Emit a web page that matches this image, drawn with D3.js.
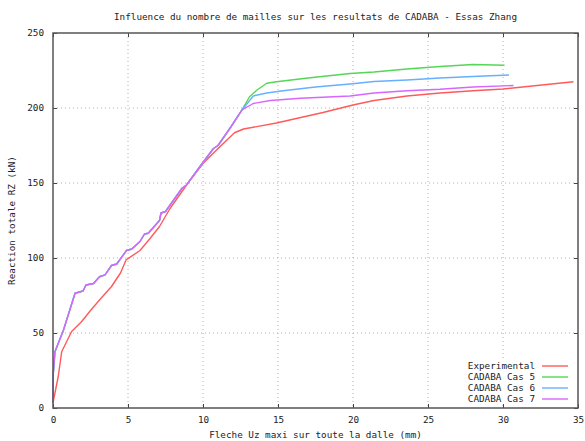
<!DOCTYPE html>
<html lang="fr">
	<head>
		<meta charset="UTF-8">
		<title>Influence du nombre de mailles</title>
		<script src="https://d3js.org/d3.v7.min.js"></script>
		<style>
			body {
				margin: 0;
				background: white;
			}

			text {
				font-family: "DejaVu Sans Mono", monospace;
				font-size: 9.3px;
				fill: #222;
			}

			.grid line {
				stroke: #b0b0b0;
				stroke-width: 1;
				stroke-dasharray: 1 3;
			}
		</style>
	</head>
	<body>
		<svg id="chart" width="585" height="441"></svg>
		<script>
			// lectures faites sur l'image (x = fleche en mm, y = reaction en kN)
			const experimental = [
				[0, 3.5], [0.35, 21], [0.58, 37.5], [1.24, 51], [1.9, 57.5], [2.5, 65], [3.1, 72],
				[3.9, 81], [4.5, 90], [4.87, 98.7], [5.8, 105], [6.47, 113], [7.1, 121], [7.8, 133],
				[9.0, 150], [10.0, 163], [10.9, 172], [12.1, 183.5], [12.7, 186], [14.9, 190],
				[16.0, 192.5], [18.0, 197], [20.0, 202], [21.4, 205], [23.6, 208], [25.8, 210],
				[28.0, 211.5], [30.0, 212.7], [34.7, 217.5]
			]
			// partie commune aux trois calculs CADABA
			const cadabaCommon = [
				[0, 3.5], [0.02, 23], [0.13, 37.5], [0.7, 52], [1.47, 76.5], [2.0, 78], [2.2, 82],
				[2.7, 83], [3.1, 87.5], [3.47, 88.7], [3.9, 95], [4.25, 96], [4.9, 105], [5.25, 106],
				[5.8, 111], [6.1, 116], [6.35, 116.5], [7.1, 125], [7.2, 130], [7.5, 131],
				[8.6, 146.5], [8.9, 148.7], [9.8, 161], [10.7, 173], [11.0, 175], [11.8, 186.5],
				[12.6, 198.7]
			]
			const cas5Tail = [
				[13.1, 207.5], [13.6, 212], [14.25, 216.5], [14.9, 217.5], [17.0, 220], [19.8, 223],
				[21.4, 224], [23.6, 226], [25.8, 227.7], [28.0, 229], [30.1, 228.5]
			]
			const cas6Tail = [
				[13.35, 208], [14.25, 210], [15.35, 211.5], [17.5, 214], [19.8, 216], [21.4, 217.7],
				[23.6, 218.7], [25.8, 220], [28.0, 221], [30.4, 222]
			]
			const cas7Tail = [
				[13.35, 203], [14.5, 205], [16.5, 206.5], [19.8, 208], [21.4, 210], [23.6, 211.5],
				[25.8, 212.5], [28.0, 214], [30.7, 215]
			]

			const seriesNames = ["Experimental", "CADABA Cas 5", "CADABA Cas 6", "CADABA Cas 7"]
			const seriesColors = ["#ff5a5a", "#55d655", "#66b0ff", "#d865ff"]
			const xTicks = [0, 5, 10, 15, 20, 25, 30, 35]
			const yTicks = [0, 50, 100, 150, 200, 250]

			const series = [
				experimental,
				cadabaCommon.concat(cas5Tail),
				cadabaCommon.concat(cas6Tail),
				cadabaCommon.concat(cas7Tail)
			]

			const svg = d3.select("#chart")
			const plotLeft = 53, plotRight = 578, plotTop = 33, plotBottom = 408

			const x = d3.scaleLinear().domain([0, 35]).range([plotLeft, plotRight])
			const y = d3.scaleLinear().domain([0, 250]).range([plotBottom, plotTop])

			// grille pointillee
			const grid = svg.append("g").classed("grid", true)
			grid.selectAll(".gx")
				.data(xTicks.filter(d => d > 0 && d < 35))
				.join("line")
				.attr("x1", d => x(d)).attr("x2", d => x(d))
				.attr("y1", plotTop).attr("y2", plotBottom)
			grid.selectAll(".gy")
				.data(yTicks.filter(d => d > 0 && d < 250))
				.join("line")
				.attr("x1", plotLeft).attr("x2", plotRight)
				.attr("y1", d => y(d)).attr("y2", d => y(d))

			// courbes
			const line = d3.line().x(d => x(d[0])).y(d => y(d[1]))
			svg.append("g")
				.selectAll("path")
				.data(series)
				.join("path")
				.attr("d", line)
				.attr("fill", "none")
				.attr("stroke", (d, i) => seriesColors[i])
				.attr("stroke-width", 1.4)
				.attr("stroke-linejoin", "round")

			// legende
			const legend = svg.append("g")
			legend.append("rect")
				.attr("x", 462).attr("y", 359)
				.attr("width", 112).attr("height", 46)
				.attr("fill", "white")
			legend.selectAll("g")
				.data(seriesNames)
				.join("g")
				.each(function (d, i) {
					const g = d3.select(this)
					const ly = 366 + i * 11
					g.append("text")
						.attr("x", 535).attr("y", ly)
						.attr("text-anchor", "end")
						.attr("dominant-baseline", "middle")
						.text(d)
					g.append("line")
						.attr("x1", 542).attr("x2", 568)
						.attr("y1", ly).attr("y2", ly)
						.attr("stroke", seriesColors[i])
						.attr("stroke-width", 1.4)
				})

			// axes, ticks dedans sur les quatre cotes
			svg.append("g")
				.attr("transform", `translate(0,${plotBottom})`)
				.call(d3.axisBottom(x).tickValues(xTicks).tickSizeInner(-4).tickSizeOuter(0).tickPadding(8))
			svg.append("g")
				.attr("transform", `translate(0,${plotTop})`)
				.call(d3.axisTop(x).tickValues(xTicks).tickSizeInner(-4).tickSizeOuter(0).tickFormat(""))
			svg.append("g")
				.attr("transform", `translate(${plotLeft},0)`)
				.call(d3.axisLeft(y).tickValues(yTicks).tickSizeInner(-4).tickSizeOuter(0).tickPadding(9))
			svg.append("g")
				.attr("transform", `translate(${plotRight},0)`)
				.call(d3.axisRight(y).tickValues(yTicks).tickSizeInner(-4).tickSizeOuter(0).tickFormat(""))
			svg.selectAll(".domain").remove()
			svg.selectAll(".tick line").attr("stroke", "#444")
			svg.selectAll(".tick text")
				.style("font-family", "'DejaVu Sans Mono', monospace")
				.style("font-size", "9.3px")
				.attr("fill", "#222")

			svg.append("rect")
				.attr("x", plotLeft).attr("y", plotTop)
				.attr("width", plotRight - plotLeft).attr("height", plotBottom - plotTop)
				.attr("fill", "none")
				.attr("stroke", "#555")
				.attr("stroke-width", 1.5)

			// titres
			const midX = (plotLeft + plotRight) / 2
			svg.append("text")
				.attr("x", midX).attr("y", 20)
				.attr("text-anchor", "middle")
				.text("Influence du nombre de mailles sur les resultats de CADABA - Essas Zhang")
			svg.append("text")
				.attr("x", midX).attr("y", 438)
				.attr("text-anchor", "middle")
				.text("Fleche Uz maxi sur toute la dalle (mm)")
			svg.append("text")
				.attr("transform", `translate(15,${(plotTop + plotBottom) / 2}) rotate(-90)`)
				.attr("text-anchor", "middle")
				.text("Reaction totale RZ (kN)")
		</script>
	</body>
</html>
